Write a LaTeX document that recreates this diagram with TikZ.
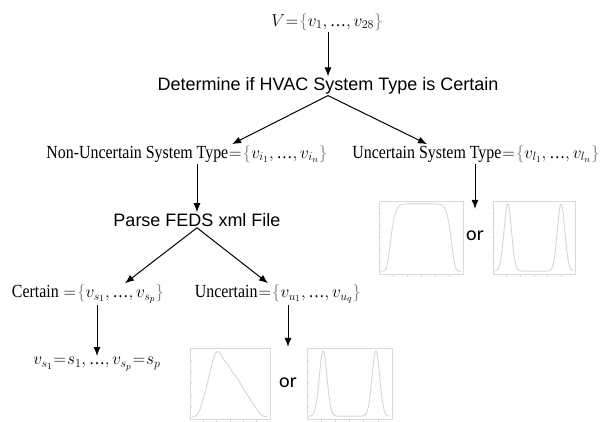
\documentclass[tikz,border=0pt]{standalone}
\usepackage{fontspec}
\setmainfont{Liberation Serif}
\newfontfamily\sansfont{Liberation Sans}
\newfontfamily\narrowserif[FakeStretch=0.86]{Liberation Serif}
\newfontfamily\orfont{Carlito}
\usetikzlibrary{arrows.meta}

% grey set braces, tight equals sign and ellipsis
\newcommand\lbr{{\color{gray}\{}}
\newcommand\rbr{{\color{gray}\}}}
\newcommand\eq{\mkern1mu\mathord{=}\mkern1mu}
\newcommand\etc{\mathord{\hbox{\narrowserif\char"2026}}}

% frame of a small density plot, corners given top-left and bottom-right
\newcommand\plotframe[4]{%
  \draw[plotbox] (#1,#2) rectangle (#3,#4);
  \foreach \k in {1,...,5}{
    \draw[plottick] (#1,{#2+(#4-#2)*\k/6}) -- ++(2,0);
    \draw[plottick] ({#1+(#3-#1)*\k/6},#4) -- ++(0,2.5);
  }%
}

\tikzset{
  arr/.style={line width=1pt, -{Latex[length=9pt,width=7pt]}},
  seriflabel/.style={font=\fontsize{18.5}{21}\selectfont\narrowserif, inner sep=1pt},
  sanslabel/.style={font=\fontsize{18}{20}\selectfont\sansfont, inner sep=1pt},
  orlabel/.style={font=\fontsize{20}{22}\selectfont\orfont, inner sep=1pt},
  plotbox/.style={draw=gray!30, line width=0.6pt},
  plotcurve/.style={draw=gray!32, line width=0.9pt},
  plottick/.style={draw=gray!30, line width=0.4pt},
}

\begin{document}
\begin{tikzpicture}[x=1pt,y=-1pt]
\path[use as bounding box] (0,0) rectangle (604,421);

% labels
\node[seriflabel] (V) at (327,22) {$V\eq\lbr v_1, \etc, v_{28}\rbr$};
\node[sanslabel] (D) at (328,86) {Determine if HVAC System Type is Certain};
\node[seriflabel] (N) at (187,154) {Non-Uncertain System Type$\eq\lbr v_{i_1}, \etc, v_{i_n}\rbr$};
\node[seriflabel] (U) at (476,154) {Uncertain System Type$\eq\lbr v_{l_1}, \etc, v_{l_n}\rbr$};
\node[sanslabel] (P) at (197,220) {Parse FEDS xml File};
\node[seriflabel] (C) at (88,294) {Certain $\eq\lbr v_{s_1}, \etc, v_{s_p}\rbr$};
\node[seriflabel] (W) at (278,294) {Uncertain$\eq\lbr v_{u_1}, \etc, v_{u_q}\rbr$};
\node[seriflabel] (S) at (97,364) {$v_{s_1}\eq s_1, \etc, v_{s_p}\eq s_p$};
\node[orlabel] (or1) at (475,236) {or};
\node[orlabel] (or2) at (288,383) {or};

% connectors
\draw[arr] (V.south -| D.north) -- (D.north);
\draw[arr] (D.south) -- ([xshift=45pt]N.north);
\draw[arr] (D.south) -- ([xshift=-49pt]U.north);
\draw[arr] (N.south -| P.north) -- (P.north);
\draw[arr] (U.south -| or1.north) -- ([yshift=21pt]or1.north);
\draw[arr] (P.south) -- ([xshift=37pt]C.north);
\draw[arr] (P.south) -- ([xshift=-10pt]W.north);
\draw[arr] (C.south -| S.north) -- (S.north);
\draw[arr] (W.south -| or2.north) -- ([yshift=30pt]or2.north);

% plateau density
\plotframe{379}{201}{463}{274}
\begin{scope}[shift={(379,274)}, x=84pt, y=73pt]
  \draw[plotcurve] plot[domain=0.02:0.98, samples=90]
    (\x, {0.04+0.92*exp(-pow((\x-0.5)*(\x-0.5)/0.1369+0.00001,5))});
\end{scope}

% two-peak density, right
\plotframe{493}{201}{575}{274}
\begin{scope}[shift={(493,274)}, x=82pt, y=73pt]
  \draw[plotcurve] plot[domain=0.02:0.98, samples=121]
    (\x, {0.04+0.92*(exp(-(\x-0.18)*(\x-0.18)/0.00405)+exp(-(\x-0.83)*(\x-0.83)/0.00405))});
\end{scope}

% skewed density
\plotframe{190}{348}{270}{419}
\begin{scope}[shift={(190,419)}, x=80pt, y=71pt]
  \draw[plotcurve] plot[smooth, tension=0.5] coordinates {
    (0.03,0.03) (0.08,0.05) (0.13,0.15) (0.19,0.38) (0.25,0.66) (0.30,0.88)
    (0.34,0.95) (0.38,0.92) (0.43,0.82) (0.48,0.76) (0.53,0.66) (0.60,0.56)
    (0.67,0.42) (0.74,0.30) (0.81,0.18) (0.87,0.08) (0.92,0.04) (0.97,0.03)};
\end{scope}

% two-peak density, bottom
\plotframe{307}{348}{392}{419}
\begin{scope}[shift={(307,419)}, x=85pt, y=71pt]
  \draw[plotcurve] plot[domain=0.02:0.98, samples=121]
    (\x, {0.04+0.92*(exp(-(\x-0.19)*(\x-0.19)/0.00405)+exp(-(\x-0.81)*(\x-0.81)/0.00405))});
\end{scope}
\end{tikzpicture}
\end{document}
